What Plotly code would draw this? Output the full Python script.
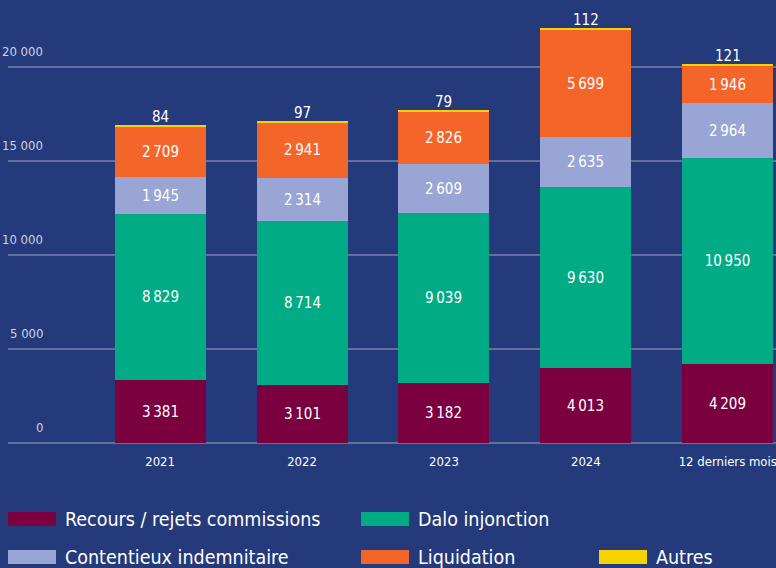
import plotly.graph_objects as go

categories = ["2021", "2022", "2023", "2024", "12 derniers mois"]
recours = [3381, 3101, 3182, 4013, 4209]
dalo = [8829, 8714, 9039, 9630, 10950]
contentieux = [1945, 2314, 2609, 2635, 2964]
liquidation = [2709, 2941, 2826, 5699, 1946]
autres = [84, 97, 79, 112, 121]

series_names = ["Recours / rejets commissions", "Dalo injonction",
                "Contentieux indemnitaire", "Liquidation", "Autres"]
series_values = [recours, dalo, contentieux, liquidation, autres]
colors = ["#7a0040", "#00ab86", "#99a5d4", "#f4652a", "#f5d300"]

y_tickvals = [0, 5000, 10000, 15000, 20000]
y_ticktext = ["0", "5 000", "10 000", "15 000", "20 000"]

BG = "#243a7b"
FONT = "Liberation Sans Narrow, DejaVu Sans Condensed, Roboto Condensed, sans-serif"
GRID = "rgba(255,255,255,0.28)"


def fmt(v):
    return f"{v:,}".replace(",", "\u2009")


x = list(range(len(categories)))
fig = go.Figure()
for i, (name, vals, col) in enumerate(zip(series_names, series_values, colors)):
    last = i == len(series_names) - 1
    fig.add_trace(go.Bar(
        x=x, y=vals, name=name, marker=dict(color=col, line=dict(width=0)),
        width=0.641,
        text=None if last else [fmt(v) for v in vals],
        textposition="none" if last else "inside",
        insidetextanchor="middle",
        textangle=0,
        constraintext="none",
        cliponaxis=False,
        textfont=dict(color="white", size=15, family=FONT),
        showlegend=False,
        hoverinfo="skip",
    ))

# totals labels for "Autres" above each stack
totals = [sum(s[k] for s in series_values) for k in range(len(categories))]
for k, (tot, v) in enumerate(zip(totals, autres)):
    fig.add_annotation(x=x[k], y=tot, xref="x", yref="y", text=fmt(v),
                       showarrow=False, yanchor="bottom", yshift=-3,
                       font=dict(size=15, color="white", family=FONT))

# plot area geometry (pixels)
L, R, T, B = 8, 0, 10, 125
W, H = 776, 568
pw, ph = W - L - R, H - T - B

fig.update_layout(
    width=W, height=H,
    margin=dict(l=L, r=R, t=T, b=B, pad=0, autoexpand=False),
    paper_bgcolor=BG, plot_bgcolor=BG,
    barmode="stack",
    bargap=0,
    uniformtext=dict(mode=False),
    font=dict(family=FONT, color="white"),
    xaxis=dict(
        range=[-1.072, 4.340],
        automargin=False,
        tickvals=x, ticktext=categories,
        showgrid=False, zeroline=False, showline=False,
        ticks="outside", ticklen=6, tickcolor="rgba(0,0,0,0)",
        ticklabeloverflow="allow",
        tickfont=dict(size=13, color="white", family=FONT),
        fixedrange=True,
    ),
    yaxis=dict(
        range=[0, ph / 0.01878],
        automargin=False,
        tickvals=y_tickvals, showticklabels=False,
        showgrid=True, gridcolor=GRID, gridwidth=1.5,
        zeroline=True, zerolinecolor=GRID, zerolinewidth=1.5,
        showline=False, ticks="",
        fixedrange=True,
    ),
)

# y tick labels: right-aligned, sitting above the gridlines
for tv, tt in zip(y_tickvals, y_ticktext):
    fig.add_annotation(xref="paper", yref="y", x=(45 - L) / pw, y=tv, text=tt,
                       showarrow=False, xanchor="right", yanchor="bottom", yshift=6,
                       font=dict(size=13, color="#cdd2e4", family=FONT))

# custom legend (swatches + labels)
legend_pos = [(8, 519), (361, 519), (8, 557), (361, 557), (599, 557)]
for (px, py), name, col in zip(legend_pos, series_names, colors):
    x0 = (px - L) / pw
    x1 = (px + 48 - L) / pw
    y0 = (H - B - (py + 7)) / ph
    y1 = (H - B - (py - 7)) / ph
    fig.add_shape(type="rect", xref="paper", yref="paper",
                  x0=x0, x1=x1, y0=y0, y1=y1,
                  fillcolor=col, line=dict(width=0))
    fig.add_annotation(xref="paper", yref="paper",
                       x=(px + 55 - L) / pw, y=(H - B - py) / ph,
                       text=name, showarrow=False, xanchor="left", yanchor="middle",
                       font=dict(size=19.5, color="white", family=FONT))

fig.write_html("out.html", config={"displayModeBar": False},
               post_script="document.body.style.margin='0';document.body.style.padding='0';")
